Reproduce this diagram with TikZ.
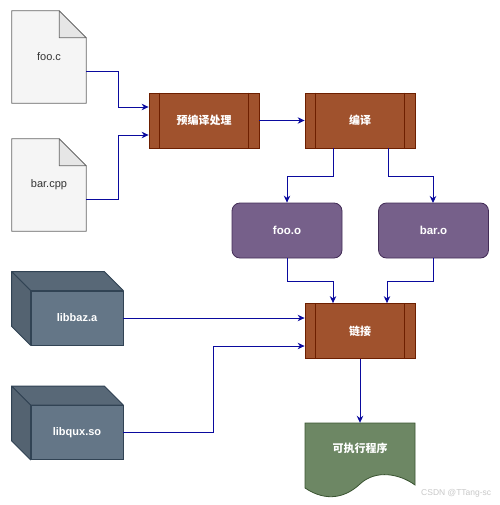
\documentclass[tikz,border=0pt]{standalone}
\usepackage{fontspec}
\setmainfont{Liberation Sans}
\newfontfamily\cjk{Noto Sans CJK SC}
\usetikzlibrary{arrows.meta,backgrounds,calc}
\definecolor{notefill}{HTML}{F5F5F5}
\definecolor{notefold}{HTML}{E6E6E6}
\definecolor{notestroke}{HTML}{666666}
\definecolor{notetext}{HTML}{333333}
\definecolor{procfill}{HTML}{A0522D}
\definecolor{procstroke}{HTML}{6D1F00}
\definecolor{objfill}{HTML}{76608A}
\definecolor{objstroke}{HTML}{432D57}
\definecolor{cubefill}{HTML}{647687}
\definecolor{cubestroke}{HTML}{314354}
\definecolor{docfill}{HTML}{6D8764}
\definecolor{docstroke}{HTML}{3A5431}
\definecolor{arrowcol}{HTML}{0A0A9E}
\definecolor{wmcol}{HTML}{C8C8C8}
\tikzset{
  notebox/.style={minimum width=74pt,minimum height=92pt,inner sep=0pt,text=notetext,font=\fontsize{11}{13}\selectfont},
  procbox/.style={draw=procstroke,fill=procfill,line width=0.8pt,minimum width=110pt,minimum height=55pt,inner sep=0pt,text=white,font=\cjk\bfseries\fontsize{11}{13}\selectfont},
  objbox/.style={draw=objstroke,fill=objfill,line width=0.8pt,rounded corners=8pt,minimum width=110pt,minimum height=55pt,inner sep=0pt,text=white,font=\bfseries\fontsize{11.5}{13}\selectfont},
  cubebox/.style={draw=cubestroke,fill=cubefill,line width=0.8pt,minimum width=92pt,minimum height=54pt,inner sep=0pt,text=white,font=\bfseries\fontsize{11}{13}\selectfont},
  docbox/.style={minimum width=110pt,minimum height=50pt,inner sep=0pt,text=white,font=\cjk\bfseries\fontsize{11}{13}\selectfont},
  conn/.style={draw=arrowcol,line width=0.9pt,-{Stealth[length=7pt,width=6.5pt]}},
}
\begin{document}
\begin{tikzpicture}[x=1pt,y=-1pt]
\useasboundingbox (0,0) rectangle (499,505);
% nodes
\node[notebox] (foo) at (49,57) {foo.c};
\node[notebox] (bar) at (49,185) {bar.cpp};
\node[procbox] (pre) at (204,120.5) {预编译处理};
\node[procbox] (comp) at (360,120.5) {编译};
\node[objbox] (fooo) at (287,230.5) {foo.o};
\node[objbox] (baro) at (433.5,230.5) {bar.o};
\node[procbox] (link) at (360,331) {链接};
\node[cubebox] (baz) at (77,318) {libbaz.a};
\node[cubebox] (qux) at (77,432.5) {libqux.so};
\node[docbox] (exe) at (360,448) {可执行程序};
\node[anchor=west,text=wmcol,font=\fontsize{8.5}{10}\selectfont,inner sep=0pt] (wm) at (421,493) {CSDN @TTang-sc};

\begin{scope}[on background layer]
  % note shapes
  \foreach \n in {foo,bar}{
    \draw[draw=notestroke,fill=notefill,line width=0.8pt]
      (\n.north west) -- ([xshift=-27pt]\n.north east) -- ([yshift=-27pt]\n.north east)
      -- (\n.south east) -- (\n.south west) -- cycle;
    \draw[draw=notestroke,fill=notefold,line width=0.8pt,line join=round]
      ([xshift=-27pt]\n.north east) -- ([xshift=-27pt,yshift=-27pt]\n.north east)
      -- ([yshift=-27pt]\n.north east) -- cycle;
  }
  % cube back faces
  \foreach \n in {baz,qux}{
    \draw[draw=cubestroke,fill=cubefill!88!black,line width=0.8pt,line join=round]
      (\n.north west) -- ++(-19,-19) -- ([xshift=-19pt,yshift=19pt]\n.north east) -- (\n.north east) -- cycle;
    \draw[draw=cubestroke,fill=cubefill!84!black,line width=0.8pt,line join=round]
      (\n.north west) -- ++(-19,-19) -- ([xshift=-19pt,yshift=19pt]\n.south west) -- (\n.south west) -- cycle;
  }
  % document shape
  \draw[draw=docstroke,fill=docfill,line width=0.8pt]
    (305,423) -- (415,423) -- (415,485)
    .. controls (400,474) and (376,469) .. (360,484)
    .. controls (345,498) and (326,502) .. (305,488) -- cycle;
\end{scope}

% inner lines of process boxes
\foreach \n in {pre,comp,link}{
  \draw[procstroke,line width=0.8pt] ([xshift=11pt]\n.north west) -- ([xshift=11pt]\n.south west);
  \draw[procstroke,line width=0.8pt] ([xshift=-11pt]\n.north east) -- ([xshift=-11pt]\n.south east);
}

% connectors
\draw[conn] ([yshift=-14pt]foo.east) -- (118,71) |- ([yshift=13.5pt]pre.west);
\draw[conn] ([yshift=-14pt]bar.east) -- (118,199) |- ([yshift=-14.5pt]pre.west);
\draw[conn] (pre.east) -- (comp.west);
\draw[conn] ([xshift=-27pt]comp.south) -- (333,176) -| (fooo.north);
\draw[conn] ([xshift=28pt]comp.south) -- (388,176) -| (433,203);
\draw[conn] (fooo.south) -- (287,281) -| ([xshift=-27pt]link.north);
\draw[conn] (baro.south) -- (433.5,281) -| ([xshift=27pt]link.north);
\draw[conn] (baz.east) -- ([yshift=13pt]link.west);
\draw[conn] (qux.east) -- (213,432.5) |- ([yshift=-15pt]link.west);
\draw[conn] (link.south) -- (exe.north);
\end{tikzpicture}
\end{document}
